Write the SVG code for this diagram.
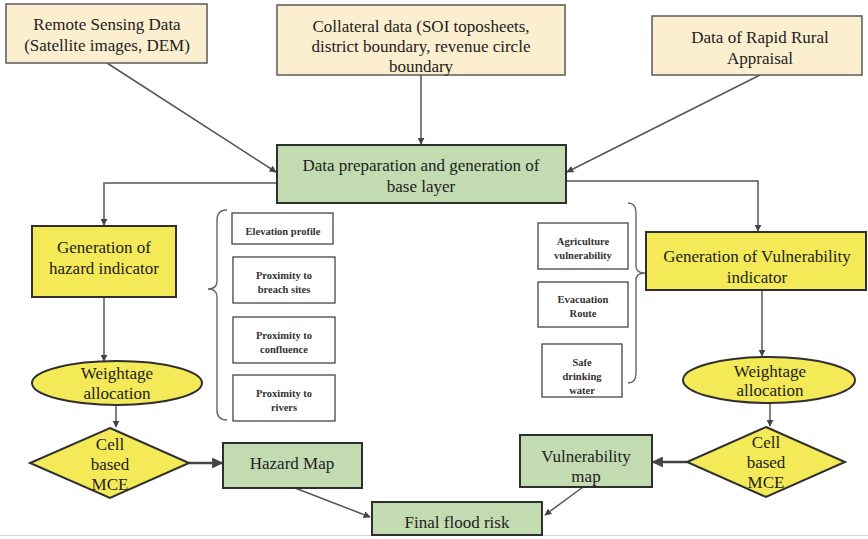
<svg xmlns="http://www.w3.org/2000/svg" width="868" height="539" viewBox="0 0 868 539">
<style>
.src{fill:#fcefcf;stroke:#5a5a5a;stroke-width:1.5}
.grn{fill:#c3dbb1;stroke:#2f2f2f;stroke-width:2}
.yel{fill:#f4ea57;stroke:#2f2f2f;stroke-width:2}
.sm{fill:#ffffff;stroke:#444;stroke-width:1.3}
.t{font-family:"Liberation Serif","Times New Roman",serif;font-size:17px;fill:#222;text-anchor:middle}
.s{font-family:"Liberation Serif","Times New Roman",serif;font-size:10.5px;font-weight:bold;fill:#333;text-anchor:middle}
.c{fill:none;stroke:#555;stroke-width:1.5}
.ct{fill:none;stroke:#444;stroke-width:2.6}
.br{fill:none;stroke:#666;stroke-width:1.4}
</style>
<defs>
<marker id="a" viewBox="0 0 10 10" refX="9" refY="5" markerWidth="7" markerHeight="7" orient="auto" markerUnits="userSpaceOnUse"><path d="M0,0 L10,5 L0,10 z" fill="#444"/></marker>
<marker id="b" viewBox="0 0 10 10" refX="9" refY="5" markerWidth="12" markerHeight="11" orient="auto" markerUnits="userSpaceOnUse"><path d="M0,0 L10,5 L0,10 z" fill="#444"/></marker>
</defs>
<rect width="868" height="539" fill="#ffffff"/>
<line x1="0" y1="535.5" x2="868" y2="535.5" stroke="#d8d8d8" stroke-width="1"/>
<g id="connectors">
<line class="c" x1="107" y1="63" x2="276" y2="172" marker-end="url(#a)"/>
<line class="c" x1="421" y1="75" x2="421" y2="144" marker-end="url(#a)"/>
<line class="c" x1="760" y1="75" x2="567" y2="172" marker-end="url(#a)"/>
<polyline class="c" points="277,183 104,183 104,225" marker-end="url(#a)"/>
<polyline class="c" points="566,181 758,181 758,231" marker-end="url(#a)"/>
<line class="c" x1="104" y1="297" x2="104" y2="361" marker-end="url(#a)"/>
<line class="c" x1="116" y1="405" x2="116" y2="427" marker-end="url(#a)"/>
<line class="ct" x1="189" y1="463" x2="222" y2="463" marker-end="url(#b)"/>
<line class="c" x1="762" y1="290" x2="762" y2="356" marker-end="url(#a)"/>
<line class="c" x1="770" y1="403" x2="770" y2="426" marker-end="url(#a)"/>
<line class="ct" x1="687" y1="462" x2="653" y2="462" marker-end="url(#b)"/>
<line class="c" x1="295" y1="488" x2="370" y2="517" marker-end="url(#a)"/>
<line class="c" x1="583" y1="487" x2="545" y2="515" marker-end="url(#a)"/>
<path class="br" d="M227,210 Q217,210 217,220 L217,281 Q217,289 208,289 Q217,289 217,297 L217,410 Q217,420 227,420"/>
<path class="br" d="M628,203 Q636,203 636,213 L636,266 Q636,273 645,273 Q636,273 636,280 L636,373 Q636,383 628,383"/>
</g>
<g id="remote">
<rect class="src" x="6" y="4" width="201" height="59"/>
<text class="t" x="107" y="30">Remote Sensing Data</text>
<text class="t" x="107" y="51">(Satellite images, DEM)</text>
</g>
<g id="collateral">
<rect class="src" x="277" y="5" width="288" height="70"/>
<text class="t" x="421" y="32">Collateral data (SOI toposheets,</text>
<text class="t" x="421" y="52">district boundary, revenue circle</text>
<text class="t" x="421" y="72">boundary</text>
</g>
<g id="rapid">
<rect class="src" x="652" y="16" width="210" height="59"/>
<text class="t" x="760" y="43">Data of Rapid Rural</text>
<text class="t" x="760" y="64">Appraisal</text>
</g>
<g id="dataprep">
<rect class="grn" x="277" y="145" width="289" height="58"/>
<text class="t" x="421" y="171">Data preparation and generation of</text>
<text class="t" x="421" y="192">base layer</text>
</g>
<g id="hazardind">
<rect class="yel" x="32" y="226" width="144" height="71"/>
<text class="t" x="104" y="253">Generation of</text>
<text class="t" x="104" y="274">hazard indicator</text>
</g>
<g id="weightL">
<ellipse class="yel" cx="117" cy="383" rx="85" ry="22"/>
<text class="t" x="117" y="379">Weightage</text>
<text class="t" x="117" y="399">allocation</text>
</g>
<g id="mceL">
<polygon class="yel" points="110,428 189,463 110,498 30,463"/>
<text class="t" x="110" y="450">Cell</text>
<text class="t" x="110" y="470">based</text>
<text class="t" x="110" y="490">MCE</text>
</g>
<g id="hazardmap">
<rect class="grn" x="223" y="443" width="139" height="45"/>
<text class="t" x="292" y="469">Hazard Map</text>
</g>
<g id="elev">
<rect class="sm" x="232" y="213" width="101" height="31"/>
<text class="s" x="283" y="235">Elevation profile</text>
</g>
<g id="breach">
<rect class="sm" x="233" y="257" width="102" height="46"/>
<text class="s" x="284" y="279">Proximity to</text>
<text class="s" x="284" y="293">breach sites</text>
</g>
<g id="confluence">
<rect class="sm" x="233" y="317" width="102" height="46"/>
<text class="s" x="284" y="339">Proximity to</text>
<text class="s" x="284" y="353">confluence</text>
</g>
<g id="rivers">
<rect class="sm" x="233" y="375" width="102" height="46"/>
<text class="s" x="284" y="397">Proximity to</text>
<text class="s" x="284" y="411">rivers</text>
</g>
<g id="agri">
<rect class="sm" x="538" y="223" width="90" height="46"/>
<text class="s" x="583" y="245">Agriculture</text>
<text class="s" x="583" y="259">vulnerability</text>
</g>
<g id="evac">
<rect class="sm" x="538" y="282" width="90" height="45"/>
<text class="s" x="583" y="303">Evacuation</text>
<text class="s" x="583" y="317">Route</text>
</g>
<g id="safe">
<rect class="sm" x="542" y="344" width="80" height="53"/>
<text class="s" x="582" y="366">Safe</text>
<text class="s" x="582" y="380">drinking</text>
<text class="s" x="582" y="394">water</text>
</g>
<g id="vulnind">
<rect class="yel" x="646" y="232" width="220" height="58"/>
<text class="t" x="757" y="262">Generation of Vulnerability</text>
<text class="t" x="757" y="283">indicator</text>
</g>
<g id="weightR">
<ellipse class="yel" cx="769" cy="380" rx="86" ry="23"/>
<text class="t" x="770" y="377">Weightage</text>
<text class="t" x="770" y="396">allocation</text>
</g>
<g id="mceR">
<polygon class="yel" points="766,427 845,462 766,497 687,462"/>
<text class="t" x="766" y="448">Cell</text>
<text class="t" x="766" y="468">based</text>
<text class="t" x="766" y="488">MCE</text>
</g>
<g id="vulnmap">
<rect class="grn" x="520" y="435" width="132" height="52"/>
<text class="t" x="586" y="462">Vulnerability</text>
<text class="t" x="586" y="482">map</text>
</g>
<g id="final">
<rect class="grn" x="372" y="502" width="170" height="33"/>
<text class="t" x="457" y="528">Final flood risk</text>
</g>
</svg>
